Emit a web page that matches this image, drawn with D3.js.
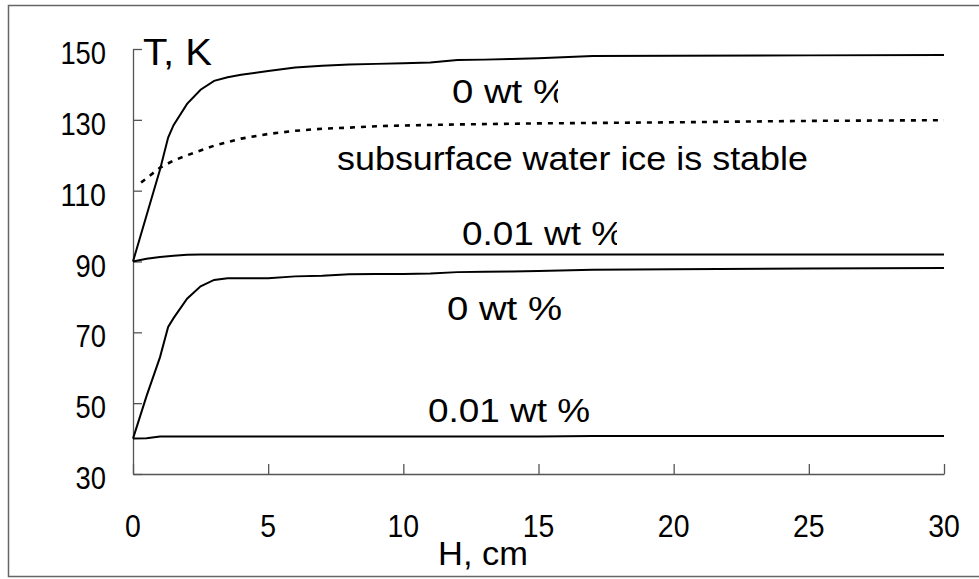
<!DOCTYPE html>
<html>
<head>
<meta charset="utf-8">
<script src="https://cdn.jsdelivr.net/npm/d3@7"></script>
<style>
  body { margin: 0; background: #fff; }
  svg text { font-family: "Liberation Sans", Arial, sans-serif; fill: #000; }
</style>
</head>
<body>
<div id="chart"></div>
<script>
const depth = [0, 0.5, 1, 1.3, 1.5, 2, 2.5, 3, 3.5, 4, 5, 6, 7, 8, 9, 10, 11, 12, 13, 14, 15, 17, 20, 25, 30]
const clean90 = [90, 103, 116, 125, 128.5, 134.5, 138.5, 141, 142, 142.7, 143.8, 144.8, 145.3, 145.6, 145.8, 146, 146.2, 146.9, 147, 147.2, 147.4, 148, 148.1, 148.2, 148.3]
const dusty90 = [90, 90.8, 91.3, 91.5, 91.6, 91.9, 92, 92, 92, 92, 92, 92, 92, 92, 92, 92, 92, 92, 92, 92, 92, 92, 92, 92, 92]
const clean40 = [40, 52, 63, 71.5, 74, 79.5, 83, 84.8, 85.3, 85.3, 85.3, 85.8, 86, 86.4, 86.5, 86.5, 86.6, 87, 87.1, 87.2, 87.3, 87.7, 87.8, 88, 88.2]
const dusty40 = [40, 40.1, 40.6, 40.6, 40.6, 40.6, 40.6, 40.6, 40.6, 40.6, 40.6, 40.6, 40.6, 40.6, 40.6, 40.6, 40.6, 40.6, 40.6, 40.6, 40.6, 40.7, 40.7, 40.7, 40.7]
const iceDepth = [0.3, 0.5, 1, 1.5, 2, 3, 4, 5, 6, 7, 8, 9, 10, 12, 15, 20, 25, 30]
const iceTemp = [112.3, 113.5, 116.5, 118.5, 120, 122.7, 124.7, 126, 126.9, 127.5, 127.8, 128.2, 128.4, 128.7, 129, 129.3, 129.7, 129.9]
const xTicks = [0, 5, 10, 15, 20, 25, 30]
const yTicks = [30, 50, 70, 90, 110, 130, 150]

const width = 979
const height = 579

let svg = d3.select('#chart')
  .append('svg')
  .attr('width', width)
  .attr('height', height)

// outer frame
svg.append('rect')
  .attr('x', 8.5)
  .attr('y', 5.5)
  .attr('width', 990)
  .attr('height', 571)
  .attr('fill', 'none')
  .attr('stroke', '#666')
  .attr('stroke-width', 1.5)

let x = d3.scaleLinear().domain([0, 30]).range([133, 944])
let y = d3.scaleLinear().domain([30, 150]).range([474, 49])

let xAxis = svg.append('g')
  .attr('transform', `translate(0, ${y(30)})`)
  .call(d3.axisTop(x).tickValues(xTicks).tickSize(10).tickSizeOuter(0).tickFormat(''))
let yAxis = svg.append('g')
  .attr('transform', `translate(${x(0)}, 0)`)
  .call(d3.axisRight(y).tickValues(yTicks).tickSize(9).tickSizeOuter(0).tickFormat(''))
;[xAxis, yAxis].forEach(a => {
  a.selectAll('path, line').attr('stroke', '#555').attr('stroke-width', 1.3)
})

// tick labels: tall, slightly narrow digits as in the original
svg.selectAll('.xlab')
  .data(xTicks)
  .enter()
  .append('text')
  .attr('x', d => x(d))
  .attr('y', 537)
  .attr('text-anchor', 'middle')
  .style('font-size', '31px')
  .attr('textLength', d => String(d).length * 15.8)
  .attr('lengthAdjust', 'spacingAndGlyphs')
  .text(d => d)

svg.selectAll('.ylab')
  .data(yTicks)
  .enter()
  .append('text')
  .attr('x', 106)
  .attr('y', d => y(d) + 4)
  .attr('dy', '0.36em')
  .attr('text-anchor', 'end')
  .style('font-size', '31px')
  .attr('textLength', d => String(d).length * 15.2)
  .attr('lengthAdjust', 'spacingAndGlyphs')
  .text(d => d)

let line = d3.line().x(d => x(d[0])).y(d => y(d[1]))

;[clean90, dusty90, clean40, dusty40].forEach(serie => {
  svg.append('path')
    .datum(depth.map((h, i) => [h, serie[i]]))
    .attr('d', line)
    .attr('fill', 'none')
    .attr('stroke', '#000')
    .attr('stroke-width', 2)
})

svg.append('path')
  .datum(iceDepth.map((h, i) => [h, iceTemp[i]]))
  .attr('d', line)
  .attr('fill', 'none')
  .attr('stroke', '#000')
  .attr('stroke-width', 2.6)
  .attr('stroke-dasharray', '5,6')

// text boxes, two of them clipped on the right like the original
let defs = svg.append('defs')
let labels = [
  {text: 'T, K', x: 143, y: 65, size: 37, len: 69, clip: null},
  {text: 'H, cm', x: 438, y: 565, size: 33, len: 90, clip: null},
  {text: '0 wt  %', x: 452, y: 103, size: 33, len: 115, clip: 558},
  {text: 'subsurface water ice is stable', x: 337, y: 170, size: 33, len: 471, clip: null},
  {text: '0.01 wt  %', x: 462, y: 245, size: 33, len: 162, clip: 617},
  {text: '0 wt  %', x: 447, y: 320, size: 33, len: 115, clip: null},
  {text: '0.01 wt  %', x: 428, y: 422, size: 33, len: 162, clip: null}
]
labels.forEach((l, i) => {
  let t = svg.append('text')
    .attr('x', l.x)
    .attr('y', l.y)
    .style('font-size', `${l.size}px`)
    .attr('textLength', l.len)
    .attr('lengthAdjust', 'spacingAndGlyphs')
    .text(l.text)
  if (l.clip) {
    defs.append('clipPath').attr('id', `clip${i}`)
      .append('rect')
      .attr('x', l.x - 5).attr('y', l.y - l.size)
      .attr('width', l.clip - l.x + 5).attr('height', l.size + 12)
    t.attr('clip-path', `url(#clip${i})`)
  }
})
</script>
</body>
</html>
